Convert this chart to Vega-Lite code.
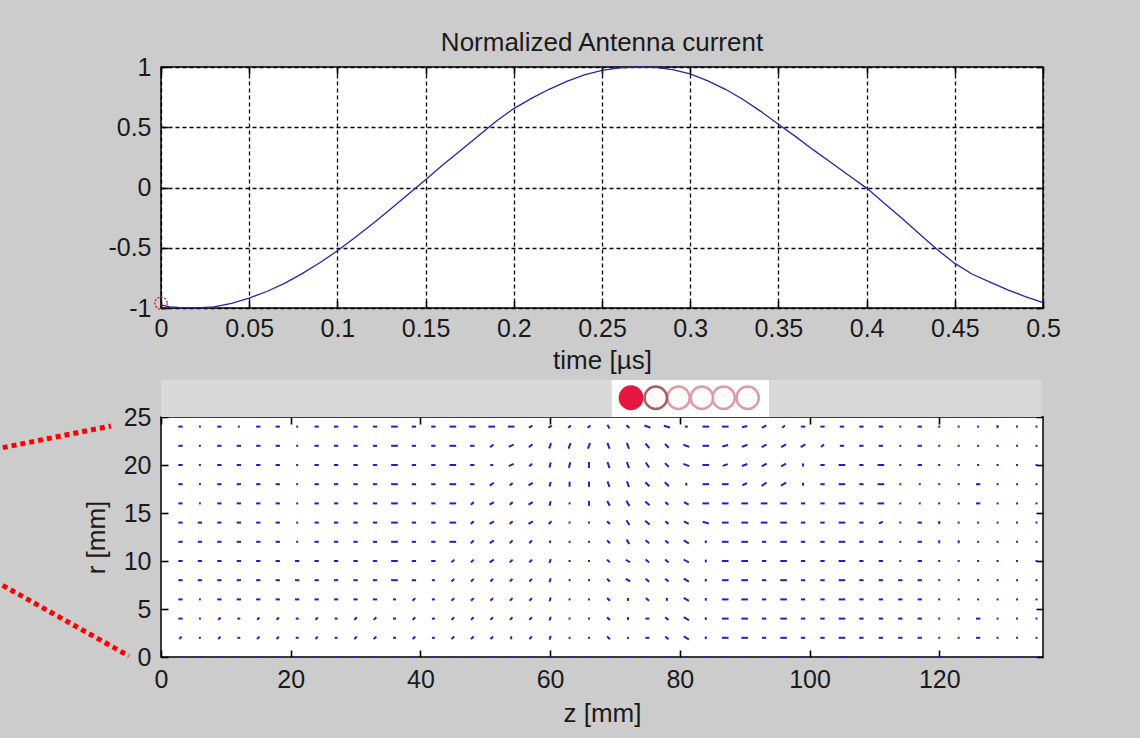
{
"$schema":"https://vega.github.io/schema/vega-lite/v6.json",
"background":"#cdcccd",
"padding":{"left":-1,"top":29,"right":100,"bottom":40},
"autosize":{"type":"pad"},
"bounds":"flush",
"spacing":109,
"config":{
 "font":"Liberation Sans",
 "view":{"fill":"white","stroke":"#000","strokeWidth":1.5},
 "title":{"font":"Liberation Sans"},
 "axis":{"labelFont":"Liberation Sans","labelFontSize":25,"labelColor":"#1a1a1a","titleFont":"Liberation Sans","titleFontSize":26,"titleFontWeight":"normal","titleColor":"#1a1a1a","domain":false,"tickColor":"#000","tickWidth":1.6,"tickSize":-7,"zindex":1}
},
"datasets":{
 "curve":[{"t":0,"i":-0.975},{"t":0.005,"i":-0.99},{"t":0.01,"i":-0.996},{"t":0.02,"i":-0.999},{"t":0.03,"i":-0.99},{"t":0.04,"i":-0.962},{"t":0.05,"i":-0.918},{"t":0.06,"i":-0.863},{"t":0.07,"i":-0.795},{"t":0.08,"i":-0.715},{"t":0.09,"i":-0.625},{"t":0.1,"i":-0.525},{"t":0.11,"i":-0.415},{"t":0.12,"i":-0.3},{"t":0.13,"i":-0.18},{"t":0.14,"i":-0.058},{"t":0.15,"i":0.065},{"t":0.16,"i":0.19},{"t":0.17,"i":0.31},{"t":0.18,"i":0.43},{"t":0.19,"i":0.55},{"t":0.2,"i":0.655},{"t":0.21,"i":0.74},{"t":0.22,"i":0.815},{"t":0.23,"i":0.88},{"t":0.24,"i":0.935},{"t":0.25,"i":0.972},{"t":0.26,"i":0.993},{"t":0.27,"i":1},{"t":0.28,"i":0.997},{"t":0.29,"i":0.978},{"t":0.3,"i":0.942},{"t":0.31,"i":0.885},{"t":0.32,"i":0.815},{"t":0.33,"i":0.73},{"t":0.34,"i":0.632},{"t":0.35,"i":0.525},{"t":0.36,"i":0.42},{"t":0.37,"i":0.31},{"t":0.38,"i":0.205},{"t":0.39,"i":0.1},{"t":0.4,"i":-0.005},{"t":0.41,"i":-0.13},{"t":0.42,"i":-0.255},{"t":0.43,"i":-0.385},{"t":0.44,"i":-0.515},{"t":0.45,"i":-0.63},{"t":0.46,"i":-0.72},{"t":0.47,"i":-0.785},{"t":0.48,"i":-0.85},{"t":0.49,"i":-0.905},{"t":0.5,"i":-0.955}],
 "field":[
{"z":3,"r":24,"a":0,"m":1.3},{"z":6,"r":24,"a":0,"m":0.6},{"z":9,"r":24,"a":0,"m":1.3},{"z":12,"r":24,"a":0,"m":0.6},{"z":15,"r":24,"a":0,"m":1.3},{"z":18,"r":24,"a":0,"m":1.3},{"z":21,"r":24,"a":0,"m":0.6},{"z":24,"r":24,"a":0,"m":1.3},{"z":27,"r":24,"a":0,"m":1.3},{"z":30,"r":24,"a":0,"m":1.3},{"z":33,"r":24,"a":0,"m":1.3},{"z":36,"r":24,"a":0,"m":2},{"z":39,"r":24,"a":0,"m":1.3},{"z":42,"r":24,"a":0,"m":1.3},{"z":45,"r":24,"a":0,"m":2},{"z":48,"r":24,"a":0,"m":2},{"z":51,"r":24,"a":0,"m":2},{"z":54,"r":24,"a":0,"m":2},{"z":57,"r":24,"a":-30,"m":1.2},{"z":60,"r":24,"a":-30,"m":1.2},{"z":63,"r":24,"a":-40,"m":1.1},{"z":66,"r":24,"a":-40,"m":1.1},{"z":69,"r":24,"a":60,"m":1.3},{"z":72,"r":24,"a":40,"m":1.2},{"z":75,"r":24,"a":20,"m":1.9},{"z":78,"r":24,"a":15,"m":1.9},{"z":81,"r":24,"a":0,"m":0.9},{"z":84,"r":24,"a":0,"m":2},{"z":87,"r":24,"a":0,"m":2},{"z":90,"r":24,"a":-15,"m":1.6},{"z":93,"r":24,"a":-30,"m":1.5},{"z":96,"r":24,"a":-40,"m":1.1},{"z":99,"r":24,"a":0,"m":1.3},{"z":102,"r":24,"a":0,"m":1.3},{"z":105,"r":24,"a":0,"m":1.3},{"z":108,"r":24,"a":0,"m":1.3},{"z":111,"r":24,"a":0,"m":1.3},{"z":114,"r":24,"a":0,"m":0.6},{"z":117,"r":24,"a":0,"m":1.3},{"z":120,"r":24,"a":0,"m":0.6},{"z":123,"r":24,"a":0,"m":0.6},{"z":126,"r":24,"a":0,"m":0.6},{"z":129,"r":24,"a":90,"m":0.9},{"z":132,"r":24,"a":0,"m":0.6},{"z":135,"r":24,"a":0,"m":0.6},
{"z":3,"r":22,"a":0,"m":1.3},{"z":6,"r":22,"a":0,"m":0.6},{"z":9,"r":22,"a":0,"m":1.3},{"z":12,"r":22,"a":0,"m":1.3},{"z":15,"r":22,"a":0,"m":1.3},{"z":18,"r":22,"a":0,"m":1.3},{"z":21,"r":22,"a":0,"m":0.6},{"z":24,"r":22,"a":0,"m":1.3},{"z":27,"r":22,"a":0,"m":1.3},{"z":30,"r":22,"a":0,"m":1.3},{"z":33,"r":22,"a":0,"m":1.3},{"z":36,"r":22,"a":0,"m":2},{"z":39,"r":22,"a":0,"m":1.3},{"z":42,"r":22,"a":0,"m":1.3},{"z":45,"r":22,"a":0,"m":2},{"z":48,"r":22,"a":0,"m":1.3},{"z":51,"r":22,"a":-40,"m":1.3},{"z":54,"r":22,"a":-25,"m":1.6},{"z":57,"r":22,"a":-40,"m":1.4},{"z":60,"r":22,"a":-70,"m":1.7},{"z":63,"r":22,"a":-70,"m":1.8},{"z":66,"r":22,"a":-70,"m":1.8},{"z":69,"r":22,"a":70,"m":1.9},{"z":72,"r":22,"a":70,"m":1.9},{"z":75,"r":22,"a":50,"m":1.8},{"z":78,"r":22,"a":45,"m":1.6},{"z":81,"r":22,"a":20,"m":1.9},{"z":84,"r":22,"a":0,"m":2},{"z":87,"r":22,"a":-15,"m":1.8},{"z":90,"r":22,"a":-20,"m":1.8},{"z":93,"r":22,"a":-30,"m":1.7},{"z":96,"r":22,"a":-30,"m":1.7},{"z":99,"r":22,"a":-30,"m":1.6},{"z":102,"r":22,"a":-40,"m":1.2},{"z":105,"r":22,"a":0,"m":1.3},{"z":108,"r":22,"a":0,"m":1.3},{"z":111,"r":22,"a":0,"m":1.3},{"z":114,"r":22,"a":0,"m":0.6},{"z":117,"r":22,"a":0,"m":1.3},{"z":120,"r":22,"a":0,"m":0.6},{"z":123,"r":22,"a":0,"m":0.6},{"z":126,"r":22,"a":0,"m":0.6},{"z":129,"r":22,"a":0,"m":0.6},{"z":132,"r":22,"a":0,"m":0.6},{"z":135,"r":22,"a":0,"m":0.6},
{"z":3,"r":20,"a":0,"m":1.3},{"z":6,"r":20,"a":0,"m":0.6},{"z":9,"r":20,"a":0,"m":1.3},{"z":12,"r":20,"a":0,"m":1.3},{"z":15,"r":20,"a":0,"m":1.3},{"z":18,"r":20,"a":0,"m":1.3},{"z":21,"r":20,"a":0,"m":0.6},{"z":24,"r":20,"a":0,"m":1.3},{"z":27,"r":20,"a":0,"m":1.3},{"z":30,"r":20,"a":0,"m":1.3},{"z":33,"r":20,"a":0,"m":1.3},{"z":36,"r":20,"a":0,"m":2},{"z":39,"r":20,"a":0,"m":1.3},{"z":42,"r":20,"a":0,"m":1.3},{"z":45,"r":20,"a":0,"m":2},{"z":48,"r":20,"a":0,"m":1.3},{"z":51,"r":20,"a":0,"m":0.9},{"z":54,"r":20,"a":-25,"m":1.6},{"z":57,"r":20,"a":-40,"m":1.2},{"z":60,"r":20,"a":-75,"m":1.5},{"z":63,"r":20,"a":-75,"m":1.7},{"z":66,"r":20,"a":90,"m":1.8},{"z":69,"r":20,"a":70,"m":1.9},{"z":72,"r":20,"a":70,"m":1.9},{"z":75,"r":20,"a":55,"m":1.8},{"z":78,"r":20,"a":45,"m":1.6},{"z":81,"r":20,"a":20,"m":1.9},{"z":84,"r":20,"a":0,"m":2},{"z":87,"r":20,"a":-20,"m":1.6},{"z":90,"r":20,"a":-20,"m":1.7},{"z":93,"r":20,"a":-30,"m":1.7},{"z":96,"r":20,"a":-30,"m":1.7},{"z":99,"r":20,"a":90,"m":0.9},{"z":102,"r":20,"a":0,"m":1.3},{"z":105,"r":20,"a":0,"m":2},{"z":108,"r":20,"a":0,"m":1.3},{"z":111,"r":20,"a":0,"m":2},{"z":114,"r":20,"a":0,"m":0.6},{"z":117,"r":20,"a":0,"m":1.3},{"z":120,"r":20,"a":0,"m":0.6},{"z":123,"r":20,"a":0,"m":0.6},{"z":126,"r":20,"a":0,"m":0.6},{"z":129,"r":20,"a":0,"m":0.6},{"z":132,"r":20,"a":0,"m":0.6},{"z":135,"r":20,"a":0,"m":0.6},
{"z":3,"r":18,"a":0,"m":1.3},{"z":6,"r":18,"a":0,"m":0.6},{"z":9,"r":18,"a":0,"m":1.3},{"z":12,"r":18,"a":0,"m":1.3},{"z":15,"r":18,"a":0,"m":1.3},{"z":18,"r":18,"a":0,"m":1.3},{"z":21,"r":18,"a":0,"m":0.6},{"z":24,"r":18,"a":0,"m":1.3},{"z":27,"r":18,"a":0,"m":1.3},{"z":30,"r":18,"a":0,"m":1.3},{"z":33,"r":18,"a":0,"m":1.3},{"z":36,"r":18,"a":0,"m":2},{"z":39,"r":18,"a":0,"m":1.3},{"z":42,"r":18,"a":0,"m":1.3},{"z":45,"r":18,"a":0,"m":2},{"z":48,"r":18,"a":0,"m":1.3},{"z":51,"r":18,"a":-35,"m":1.5},{"z":54,"r":18,"a":-40,"m":1.2},{"z":57,"r":18,"a":-30,"m":1.5},{"z":60,"r":18,"a":-75,"m":1.4},{"z":63,"r":18,"a":90,"m":1.5},{"z":66,"r":18,"a":90,"m":1.6},{"z":69,"r":18,"a":70,"m":1.8},{"z":72,"r":18,"a":70,"m":1.8},{"z":75,"r":18,"a":45,"m":1.7},{"z":78,"r":18,"a":45,"m":1.7},{"z":81,"r":18,"a":90,"m":0.8},{"z":84,"r":18,"a":0,"m":2},{"z":87,"r":18,"a":0,"m":2},{"z":90,"r":18,"a":-25,"m":1.5},{"z":93,"r":18,"a":-35,"m":1.8},{"z":96,"r":18,"a":-30,"m":1.8},{"z":99,"r":18,"a":90,"m":0.9},{"z":102,"r":18,"a":0,"m":1.3},{"z":105,"r":18,"a":0,"m":2},{"z":108,"r":18,"a":0,"m":1.3},{"z":111,"r":18,"a":0,"m":2},{"z":114,"r":18,"a":0,"m":0.6},{"z":117,"r":18,"a":0,"m":0.6},{"z":120,"r":18,"a":0,"m":0.6},{"z":123,"r":18,"a":0,"m":0.6},{"z":126,"r":18,"a":0,"m":1.3},{"z":129,"r":18,"a":0,"m":0.6},{"z":132,"r":18,"a":0,"m":0.6},{"z":135,"r":18,"a":0,"m":0.6},
{"z":3,"r":16,"a":0,"m":1.3},{"z":6,"r":16,"a":0,"m":0.6},{"z":9,"r":16,"a":0,"m":1.3},{"z":12,"r":16,"a":0,"m":1.3},{"z":15,"r":16,"a":0,"m":1.3},{"z":18,"r":16,"a":0,"m":1.3},{"z":21,"r":16,"a":0,"m":0.6},{"z":24,"r":16,"a":0,"m":1.3},{"z":27,"r":16,"a":0,"m":1.3},{"z":30,"r":16,"a":0,"m":1.3},{"z":33,"r":16,"a":0,"m":1.3},{"z":36,"r":16,"a":0,"m":2},{"z":39,"r":16,"a":0,"m":1.3},{"z":42,"r":16,"a":0,"m":1.3},{"z":45,"r":16,"a":0,"m":2},{"z":48,"r":16,"a":-40,"m":1.2},{"z":51,"r":16,"a":-30,"m":1.5},{"z":54,"r":16,"a":-40,"m":1.2},{"z":57,"r":16,"a":-30,"m":1.5},{"z":60,"r":16,"a":-75,"m":1.4},{"z":63,"r":16,"a":0,"m":0.6},{"z":66,"r":16,"a":90,"m":1.5},{"z":69,"r":16,"a":60,"m":1.6},{"z":72,"r":16,"a":60,"m":1.8},{"z":75,"r":16,"a":40,"m":1.7},{"z":78,"r":16,"a":40,"m":1.2},{"z":81,"r":16,"a":30,"m":1.6},{"z":84,"r":16,"a":0,"m":2},{"z":87,"r":16,"a":0,"m":2},{"z":90,"r":16,"a":0,"m":2},{"z":93,"r":16,"a":0,"m":2},{"z":96,"r":16,"a":0,"m":2},{"z":99,"r":16,"a":0,"m":1.3},{"z":102,"r":16,"a":0,"m":1.3},{"z":105,"r":16,"a":0,"m":2},{"z":108,"r":16,"a":0,"m":1.3},{"z":111,"r":16,"a":0,"m":2},{"z":114,"r":16,"a":0,"m":0.6},{"z":117,"r":16,"a":0,"m":0.6},{"z":120,"r":16,"a":0,"m":0.6},{"z":123,"r":16,"a":0,"m":0.6},{"z":126,"r":16,"a":0,"m":1.3},{"z":129,"r":16,"a":0,"m":0.6},{"z":132,"r":16,"a":0,"m":0.6},{"z":135,"r":16,"a":0,"m":0.6},
{"z":3,"r":14,"a":0,"m":1.3},{"z":6,"r":14,"a":0,"m":1.3},{"z":9,"r":14,"a":0,"m":1.3},{"z":12,"r":14,"a":0,"m":1.3},{"z":15,"r":14,"a":0,"m":1.3},{"z":18,"r":14,"a":0,"m":1.3},{"z":21,"r":14,"a":0,"m":0.6},{"z":24,"r":14,"a":0,"m":1.3},{"z":27,"r":14,"a":0,"m":1.3},{"z":30,"r":14,"a":0,"m":1.3},{"z":33,"r":14,"a":0,"m":1.3},{"z":36,"r":14,"a":0,"m":2},{"z":39,"r":14,"a":0,"m":1.3},{"z":42,"r":14,"a":0,"m":1.3},{"z":45,"r":14,"a":0,"m":2},{"z":48,"r":14,"a":-40,"m":1.2},{"z":51,"r":14,"a":-30,"m":1.5},{"z":54,"r":14,"a":-40,"m":1.2},{"z":57,"r":14,"a":-30,"m":1.5},{"z":60,"r":14,"a":-45,"m":1.2},{"z":63,"r":14,"a":0,"m":0.6},{"z":66,"r":14,"a":0,"m":0.6},{"z":69,"r":14,"a":45,"m":1.2},{"z":72,"r":14,"a":60,"m":1.7},{"z":75,"r":14,"a":40,"m":1.7},{"z":78,"r":14,"a":40,"m":1.2},{"z":81,"r":14,"a":30,"m":1.6},{"z":84,"r":14,"a":15,"m":1.9},{"z":87,"r":14,"a":0,"m":2},{"z":90,"r":14,"a":0,"m":2},{"z":93,"r":14,"a":0,"m":2},{"z":96,"r":14,"a":0,"m":2},{"z":99,"r":14,"a":0,"m":1.3},{"z":102,"r":14,"a":0,"m":1.3},{"z":105,"r":14,"a":0,"m":2},{"z":108,"r":14,"a":0,"m":1.3},{"z":111,"r":14,"a":-30,"m":1.3},{"z":114,"r":14,"a":0,"m":0.6},{"z":117,"r":14,"a":0,"m":1.3},{"z":120,"r":14,"a":90,"m":0.9},{"z":123,"r":14,"a":0,"m":0.6},{"z":126,"r":14,"a":0,"m":0.6},{"z":129,"r":14,"a":0,"m":0.6},{"z":132,"r":14,"a":0,"m":0.6},{"z":135,"r":14,"a":0,"m":0.6},
{"z":3,"r":12,"a":0,"m":1.3},{"z":6,"r":12,"a":0,"m":1.3},{"z":9,"r":12,"a":0,"m":1.3},{"z":12,"r":12,"a":0,"m":1.3},{"z":15,"r":12,"a":0,"m":1.3},{"z":18,"r":12,"a":0,"m":1.3},{"z":21,"r":12,"a":0,"m":0.6},{"z":24,"r":12,"a":0,"m":1.3},{"z":27,"r":12,"a":0,"m":1.3},{"z":30,"r":12,"a":0,"m":1.3},{"z":33,"r":12,"a":0,"m":1.3},{"z":36,"r":12,"a":0,"m":2},{"z":39,"r":12,"a":0,"m":1.3},{"z":42,"r":12,"a":0,"m":1.3},{"z":45,"r":12,"a":0,"m":2},{"z":48,"r":12,"a":-45,"m":1.2},{"z":51,"r":12,"a":-35,"m":1.5},{"z":54,"r":12,"a":-45,"m":1.2},{"z":57,"r":12,"a":-45,"m":1.2},{"z":60,"r":12,"a":90,"m":0.8},{"z":63,"r":12,"a":0,"m":0.6},{"z":66,"r":12,"a":0,"m":0.6},{"z":69,"r":12,"a":45,"m":1.2},{"z":72,"r":12,"a":60,"m":1.6},{"z":75,"r":12,"a":40,"m":1.4},{"z":78,"r":12,"a":40,"m":1.3},{"z":81,"r":12,"a":30,"m":1.8},{"z":84,"r":12,"a":90,"m":0.8},{"z":87,"r":12,"a":0,"m":2},{"z":90,"r":12,"a":0,"m":2},{"z":93,"r":12,"a":0,"m":1.3},{"z":96,"r":12,"a":0,"m":2},{"z":99,"r":12,"a":0,"m":1.3},{"z":102,"r":12,"a":0,"m":1.3},{"z":105,"r":12,"a":0,"m":2},{"z":108,"r":12,"a":0,"m":1.3},{"z":111,"r":12,"a":0,"m":1.3},{"z":114,"r":12,"a":0,"m":0.6},{"z":117,"r":12,"a":0,"m":1.3},{"z":120,"r":12,"a":90,"m":0.9},{"z":123,"r":12,"a":90,"m":0.9},{"z":126,"r":12,"a":0,"m":0.6},{"z":129,"r":12,"a":0,"m":0.6},{"z":132,"r":12,"a":0,"m":0.6},{"z":135,"r":12,"a":0,"m":0.6},
{"z":3,"r":10,"a":0,"m":1.3},{"z":6,"r":10,"a":0,"m":1.3},{"z":9,"r":10,"a":0,"m":1.3},{"z":12,"r":10,"a":0,"m":1.3},{"z":15,"r":10,"a":0,"m":1.3},{"z":18,"r":10,"a":0,"m":1.3},{"z":21,"r":10,"a":0,"m":1.3},{"z":24,"r":10,"a":0,"m":1.3},{"z":27,"r":10,"a":0,"m":1.3},{"z":30,"r":10,"a":0,"m":1.3},{"z":33,"r":10,"a":0,"m":1.3},{"z":36,"r":10,"a":0,"m":2},{"z":39,"r":10,"a":0,"m":1.3},{"z":42,"r":10,"a":0,"m":1.3},{"z":45,"r":10,"a":-45,"m":1.2},{"z":48,"r":10,"a":-45,"m":1.2},{"z":51,"r":10,"a":-35,"m":1.5},{"z":54,"r":10,"a":-45,"m":1.2},{"z":57,"r":10,"a":-45,"m":1.2},{"z":60,"r":10,"a":-70,"m":1.2},{"z":63,"r":10,"a":0,"m":0.6},{"z":66,"r":10,"a":0,"m":0.6},{"z":69,"r":10,"a":45,"m":1.2},{"z":72,"r":10,"a":30,"m":1.5},{"z":75,"r":10,"a":40,"m":1.4},{"z":78,"r":10,"a":40,"m":1.3},{"z":81,"r":10,"a":30,"m":1.8},{"z":84,"r":10,"a":90,"m":0.8},{"z":87,"r":10,"a":0,"m":2},{"z":90,"r":10,"a":0,"m":2},{"z":93,"r":10,"a":0,"m":1.3},{"z":96,"r":10,"a":0,"m":2},{"z":99,"r":10,"a":0,"m":1.3},{"z":102,"r":10,"a":0,"m":1.3},{"z":105,"r":10,"a":0,"m":2},{"z":108,"r":10,"a":0,"m":1.3},{"z":111,"r":10,"a":0,"m":1.3},{"z":114,"r":10,"a":0,"m":0.6},{"z":117,"r":10,"a":0,"m":1.3},{"z":120,"r":10,"a":0,"m":0.6},{"z":123,"r":10,"a":0,"m":0.6},{"z":126,"r":10,"a":0,"m":0.6},{"z":129,"r":10,"a":0,"m":0.6},{"z":132,"r":10,"a":0,"m":0.6},{"z":135,"r":10,"a":0,"m":0.6},
{"z":3,"r":8,"a":0,"m":1.3},{"z":6,"r":8,"a":0,"m":1.3},{"z":9,"r":8,"a":0,"m":1.3},{"z":12,"r":8,"a":0,"m":1.3},{"z":15,"r":8,"a":0,"m":1.3},{"z":18,"r":8,"a":0,"m":1.3},{"z":21,"r":8,"a":0,"m":1.3},{"z":24,"r":8,"a":0,"m":1.3},{"z":27,"r":8,"a":0,"m":1.3},{"z":30,"r":8,"a":0,"m":1.3},{"z":33,"r":8,"a":0,"m":1.3},{"z":36,"r":8,"a":0,"m":2},{"z":39,"r":8,"a":0,"m":1.3},{"z":42,"r":8,"a":0,"m":0.9},{"z":45,"r":8,"a":-45,"m":1.1},{"z":48,"r":8,"a":-45,"m":1.1},{"z":51,"r":8,"a":-45,"m":1.1},{"z":54,"r":8,"a":-45,"m":1.1},{"z":57,"r":8,"a":-45,"m":1.1},{"z":60,"r":8,"a":-70,"m":1.2},{"z":63,"r":8,"a":0,"m":0.6},{"z":66,"r":8,"a":0,"m":0.6},{"z":69,"r":8,"a":45,"m":1.2},{"z":72,"r":8,"a":30,"m":1.5},{"z":75,"r":8,"a":40,"m":1.4},{"z":78,"r":8,"a":40,"m":1.3},{"z":81,"r":8,"a":30,"m":1.8},{"z":84,"r":8,"a":90,"m":0.8},{"z":87,"r":8,"a":0,"m":2},{"z":90,"r":8,"a":0,"m":2},{"z":93,"r":8,"a":0,"m":1.3},{"z":96,"r":8,"a":0,"m":2},{"z":99,"r":8,"a":0,"m":1.3},{"z":102,"r":8,"a":0,"m":1.3},{"z":105,"r":8,"a":0,"m":2},{"z":108,"r":8,"a":0,"m":1.3},{"z":111,"r":8,"a":0,"m":1.3},{"z":114,"r":8,"a":0,"m":1.3},{"z":117,"r":8,"a":0,"m":1.3},{"z":120,"r":8,"a":0,"m":0.6},{"z":123,"r":8,"a":0,"m":0.6},{"z":126,"r":8,"a":0,"m":0.6},{"z":129,"r":8,"a":0,"m":0.6},{"z":132,"r":8,"a":0,"m":0.6},{"z":135,"r":8,"a":0,"m":0.6},
{"z":3,"r":6,"a":0,"m":1.3},{"z":6,"r":6,"a":0,"m":0.6},{"z":9,"r":6,"a":0,"m":1.3},{"z":12,"r":6,"a":0,"m":1.3},{"z":15,"r":6,"a":0,"m":1.3},{"z":18,"r":6,"a":0,"m":1.3},{"z":21,"r":6,"a":0,"m":1.3},{"z":24,"r":6,"a":0,"m":1.3},{"z":27,"r":6,"a":0,"m":1.3},{"z":30,"r":6,"a":0,"m":1.3},{"z":33,"r":6,"a":0,"m":1.3},{"z":36,"r":6,"a":0,"m":0.9},{"z":39,"r":6,"a":-45,"m":1.1},{"z":42,"r":6,"a":0,"m":0.9},{"z":45,"r":6,"a":-45,"m":1.1},{"z":48,"r":6,"a":-45,"m":1.1},{"z":51,"r":6,"a":-45,"m":1.1},{"z":54,"r":6,"a":-45,"m":1.1},{"z":57,"r":6,"a":-45,"m":1.1},{"z":60,"r":6,"a":-70,"m":1.2},{"z":63,"r":6,"a":0,"m":0.6},{"z":66,"r":6,"a":0,"m":0.6},{"z":69,"r":6,"a":45,"m":1.2},{"z":72,"r":6,"a":90,"m":0.9},{"z":75,"r":6,"a":40,"m":1.3},{"z":78,"r":6,"a":90,"m":0.9},{"z":81,"r":6,"a":30,"m":1.8},{"z":84,"r":6,"a":90,"m":0.8},{"z":87,"r":6,"a":0,"m":2},{"z":90,"r":6,"a":0,"m":2},{"z":93,"r":6,"a":0,"m":1.3},{"z":96,"r":6,"a":0,"m":2},{"z":99,"r":6,"a":0,"m":1.3},{"z":102,"r":6,"a":0,"m":1.3},{"z":105,"r":6,"a":0,"m":2},{"z":108,"r":6,"a":0,"m":1.3},{"z":111,"r":6,"a":0,"m":1.3},{"z":114,"r":6,"a":0,"m":1.3},{"z":117,"r":6,"a":0,"m":1.3},{"z":120,"r":6,"a":0,"m":0.6},{"z":123,"r":6,"a":0,"m":0.6},{"z":126,"r":6,"a":0,"m":0.6},{"z":129,"r":6,"a":0,"m":0.6},{"z":132,"r":6,"a":0,"m":0.6},{"z":135,"r":6,"a":0,"m":0.6},
{"z":3,"r":4,"a":0,"m":1.3},{"z":6,"r":4,"a":0,"m":0.6},{"z":9,"r":4,"a":-45,"m":1},{"z":12,"r":4,"a":0,"m":0.9},{"z":15,"r":4,"a":-45,"m":1},{"z":18,"r":4,"a":-45,"m":1},{"z":21,"r":4,"a":0,"m":0.9},{"z":24,"r":4,"a":-45,"m":1},{"z":27,"r":4,"a":0,"m":0.9},{"z":30,"r":4,"a":-45,"m":1.1},{"z":33,"r":4,"a":-45,"m":1.1},{"z":36,"r":4,"a":0,"m":0.9},{"z":39,"r":4,"a":-45,"m":1.1},{"z":42,"r":4,"a":0,"m":0.9},{"z":45,"r":4,"a":-45,"m":1.1},{"z":48,"r":4,"a":-45,"m":1.1},{"z":51,"r":4,"a":-45,"m":1.1},{"z":54,"r":4,"a":-45,"m":1.1},{"z":57,"r":4,"a":-45,"m":1.1},{"z":60,"r":4,"a":-70,"m":1.2},{"z":63,"r":4,"a":0,"m":0.6},{"z":66,"r":4,"a":0,"m":0.6},{"z":69,"r":4,"a":45,"m":1.2},{"z":72,"r":4,"a":90,"m":0.9},{"z":75,"r":4,"a":0,"m":1.2},{"z":78,"r":4,"a":40,"m":1.3},{"z":81,"r":4,"a":30,"m":1.8},{"z":84,"r":4,"a":90,"m":0.8},{"z":87,"r":4,"a":0,"m":2},{"z":90,"r":4,"a":0,"m":2},{"z":93,"r":4,"a":0,"m":1.3},{"z":96,"r":4,"a":0,"m":2},{"z":99,"r":4,"a":0,"m":1.3},{"z":102,"r":4,"a":0,"m":1.3},{"z":105,"r":4,"a":0,"m":2},{"z":108,"r":4,"a":0,"m":1.3},{"z":111,"r":4,"a":0,"m":1.3},{"z":114,"r":4,"a":0,"m":1.3},{"z":117,"r":4,"a":0,"m":1.3},{"z":120,"r":4,"a":0,"m":0.6},{"z":123,"r":4,"a":0,"m":0.6},{"z":126,"r":4,"a":0,"m":1.3},{"z":129,"r":4,"a":0,"m":0.6},{"z":132,"r":4,"a":0,"m":0.6},{"z":135,"r":4,"a":0,"m":0.6},
{"z":3,"r":2,"a":-45,"m":1},{"z":6,"r":2,"a":0,"m":0.6},{"z":9,"r":2,"a":-45,"m":1},{"z":12,"r":2,"a":0,"m":0.9},{"z":15,"r":2,"a":-45,"m":1},{"z":18,"r":2,"a":-45,"m":1},{"z":21,"r":2,"a":0,"m":0.9},{"z":24,"r":2,"a":-45,"m":1},{"z":27,"r":2,"a":0,"m":0.9},{"z":30,"r":2,"a":-45,"m":1.1},{"z":33,"r":2,"a":-45,"m":1.1},{"z":36,"r":2,"a":0,"m":0.9},{"z":39,"r":2,"a":-45,"m":1.1},{"z":42,"r":2,"a":0,"m":0.9},{"z":45,"r":2,"a":-45,"m":1.1},{"z":48,"r":2,"a":-45,"m":1.1},{"z":51,"r":2,"a":-45,"m":1.1},{"z":54,"r":2,"a":90,"m":0.9},{"z":57,"r":2,"a":-45,"m":1.1},{"z":60,"r":2,"a":-70,"m":1.2},{"z":63,"r":2,"a":0,"m":0.6},{"z":66,"r":2,"a":0,"m":0.6},{"z":69,"r":2,"a":45,"m":1.2},{"z":72,"r":2,"a":0,"m":0.6},{"z":75,"r":2,"a":0,"m":1.2},{"z":78,"r":2,"a":40,"m":1.3},{"z":81,"r":2,"a":30,"m":1.8},{"z":84,"r":2,"a":90,"m":0.8},{"z":87,"r":2,"a":0,"m":2},{"z":90,"r":2,"a":0,"m":2},{"z":93,"r":2,"a":0,"m":1.3},{"z":96,"r":2,"a":0,"m":2},{"z":99,"r":2,"a":0,"m":1.3},{"z":102,"r":2,"a":0,"m":1.3},{"z":105,"r":2,"a":0,"m":2},{"z":108,"r":2,"a":0,"m":1.3},{"z":111,"r":2,"a":0,"m":1.3},{"z":114,"r":2,"a":0,"m":1.3},{"z":117,"r":2,"a":0,"m":1.3},{"z":120,"r":2,"a":0,"m":0.6},{"z":123,"r":2,"a":0,"m":0.6},{"z":126,"r":2,"a":0,"m":1.3},{"z":129,"r":2,"a":0,"m":0.6},{"z":132,"r":2,"a":0,"m":0.6},{"z":135,"r":2,"a":0,"m":0.6},
{"z":3,"r":0,"a":0,"m":0.7},{"z":6,"r":0,"a":0,"m":0.7},{"z":9,"r":0,"a":0,"m":0.7},{"z":12,"r":0,"a":0,"m":0.7},{"z":15,"r":0,"a":0,"m":0.7},{"z":18,"r":0,"a":0,"m":0.7},{"z":21,"r":0,"a":0,"m":0.7},{"z":24,"r":0,"a":0,"m":0.7},{"z":27,"r":0,"a":0,"m":0.7},{"z":30,"r":0,"a":0,"m":0.7},{"z":33,"r":0,"a":0,"m":0.7},{"z":36,"r":0,"a":0,"m":0.7},{"z":39,"r":0,"a":0,"m":0.7},{"z":42,"r":0,"a":0,"m":0.7},{"z":45,"r":0,"a":0,"m":0.7},{"z":48,"r":0,"a":0,"m":0.7},{"z":51,"r":0,"a":0,"m":0.7},{"z":54,"r":0,"a":0,"m":0.7},{"z":57,"r":0,"a":0,"m":0.7},{"z":60,"r":0,"a":0,"m":0.7},{"z":63,"r":0,"a":0,"m":0.7},{"z":66,"r":0,"a":0,"m":0.7},{"z":69,"r":0,"a":0,"m":0.7},{"z":72,"r":0,"a":0,"m":0.7},{"z":75,"r":0,"a":0,"m":0.7},{"z":78,"r":0,"a":0,"m":0.7},{"z":81,"r":0,"a":0,"m":0.7},{"z":84,"r":0,"a":0,"m":0.7},{"z":87,"r":0,"a":0,"m":0.7},{"z":90,"r":0,"a":0,"m":0.7},{"z":93,"r":0,"a":0,"m":0.7},{"z":96,"r":0,"a":0,"m":1},{"z":99,"r":0,"a":0,"m":0.7},{"z":102,"r":0,"a":0,"m":0.7},{"z":105,"r":0,"a":0,"m":1},{"z":108,"r":0,"a":0,"m":0.7},{"z":111,"r":0,"a":0,"m":0.7},{"z":114,"r":0,"a":0,"m":0.7},{"z":117,"r":0,"a":0,"m":0.7},{"z":120,"r":0,"a":0,"m":0.7},{"z":123,"r":0,"a":0,"m":0.7},{"z":126,"r":0,"a":0,"m":0.7},{"z":129,"r":0,"a":0,"m":0.7},{"z":132,"r":0,"a":0,"m":0.7},{"z":135,"r":0,"a":0,"m":0.7}
 ]
},
"vconcat":[
 {
  "width":882,"height":241,
  "title":{"text":"Normalized Antenna current","fontSize":26,"fontWeight":"normal","color":"#1a1a1a","offset":-1,"anchor":"middle"},
  "layer":[
   {"data":{"name":"curve"},
    "mark":{"type":"line","color":"#2424b0","strokeWidth":1.3},
    "encoding":{
     "x":{"field":"t","type":"quantitative","scale":{"domain":[0,0.5],"nice":false,"zero":false},
          "axis":{"values":[0,0.05,0.1,0.15,0.2,0.25,0.3,0.35,0.4,0.45,0.5],"labelExpr":"''+datum.value","title":"time [µs]","grid":true,"gridColor":"#000","gridDash":[4,3],"gridWidth":1.3,"labelPadding":15,"titlePadding":6,"labelFlush":false,"zindex":0}},
     "y":{"field":"i","type":"quantitative","scale":{"domain":[-1,1],"nice":false,"zero":false},
          "axis":{"values":[-1,-0.5,0,0.5,1],"labelExpr":"''+datum.value","title":null,"grid":true,"gridColor":"#000","gridDash":[4,3],"gridWidth":1.3,"labelPadding":17,"labelFlush":false,"zindex":0}}
    }},
   {"data":{"values":[{"t":0,"i":-0.96}]},
    "mark":{"type":"point","shape":"circle","size":150,"filled":false,"color":"#e01010","strokeWidth":1.3,"strokeDash":[2,1.5],"opacity":1,"clip":false},
    "encoding":{
     "x":{"field":"t","type":"quantitative","axis":{"orient":"top","labels":false,"title":null,"grid":false,"values":[0,0.05,0.1,0.15,0.2,0.25,0.3,0.35,0.4,0.45,0.5]}},
     "y":{"field":"i","type":"quantitative","axis":{"orient":"right","labels":false,"title":null,"grid":false,"values":[-1,-0.5,0,0.5,1]}}
    }}
  ],
  "resolve":{"axis":{"x":"independent","y":"independent"}}
 },
 {
  "width":882,"height":240,
  "layer":[
   {"data":{"name":"field"},
    "mark":{"type":"point","shape":"M-1,0L1,0","filled":false,"color":"#1f1fcc","strokeWidth":2,"opacity":1},
    "encoding":{
     "x":{"field":"z","type":"quantitative","scale":{"domain":[0,136],"nice":false,"zero":false},
          "axis":{"values":[0,20,40,60,80,100,120],"title":"z [mm]","grid":false,"labelPadding":17,"titlePadding":8,"labelFlush":false}},
     "y":{"field":"r","type":"quantitative","scale":{"domain":[0,25],"nice":false,"zero":false},
          "axis":{"values":[0,5,10,15,20,25],"title":"r [mm]","grid":false,"labelPadding":17,"titlePadding":14,"labelFlush":false}},
     "angle":{"field":"a","type":"quantitative","scale":null},
     "size":{"field":"m","type":"quantitative","scale":{"type":"pow","exponent":2,"domain":[0,3],"range":[0,100]},"legend":null}
    }},
   {"data":{"values":[{"z":0,"z2":135.75,"r":25,"r2":28.85}]},
    "mark":{"type":"rect","color":"#d9d9d9","clip":false},
    "encoding":{
     "x":{"field":"z","type":"quantitative","axis":{"orient":"top","labels":false,"title":null,"grid":false,"values":[0,20,40,60,80,100,120]}},
     "x2":{"field":"z2"},
     "y":{"field":"r","type":"quantitative","axis":{"orient":"right","labels":false,"title":null,"grid":false,"values":[0,5,10,15,20,25]}},
     "y2":{"field":"r2"}
    }},
   {"data":{"values":[{"z":69.5,"z2":93.75,"r":25,"r2":28.85}]},
    "mark":{"type":"rect","color":"#ffffff","clip":false},
    "encoding":{
     "x":{"field":"z","type":"quantitative","axis":null},
     "x2":{"field":"z2"},
     "y":{"field":"r","type":"quantitative","axis":null},
     "y2":{"field":"r2"}
    }},
   {"data":{"values":[{"z":90.46,"r":27,"k":"off"},{"z":86.75,"r":27,"k":"off"},{"z":83.4,"r":27,"k":"off"},{"z":79.8,"r":27,"k":"off"},{"z":76.29,"r":27,"k":"next"},{"z":72.48,"r":27,"k":"on"}]},
    "mark":{"type":"point","shape":"circle","size":500,"strokeWidth":2.5,"opacity":1,"filled":true,"clip":false},
    "encoding":{
     "x":{"field":"z","type":"quantitative","axis":null},
     "y":{"field":"r","type":"quantitative","axis":null},
     "fill":{"field":"k","type":"nominal","scale":{"domain":["on","next","off"],"range":["#e3173f","#fdfafa","#fefbfb"]},"legend":null},
     "stroke":{"field":"k","type":"nominal","scale":{"domain":["on","next","off"],"range":["#e3173f","#a06066","#de9aa7"]},"legend":null}
    }},
   {"data":{"values":[{"z":-24.4,"r":21.81,"z2":-7.72,"r2":24.06},{"z":-24.4,"r":7.46,"z2":-4.94,"r2":0.1}]},
    "mark":{"type":"rule","color":"#ff0000","strokeWidth":5,"strokeDash":[5,4],"clip":false},
    "encoding":{
     "x":{"field":"z","type":"quantitative","axis":null},
     "y":{"field":"r","type":"quantitative","axis":null},
     "x2":{"field":"z2"},
     "y2":{"field":"r2"}
    }}
  ],
  "resolve":{"axis":{"x":"independent","y":"independent"}}
 }
]
}
